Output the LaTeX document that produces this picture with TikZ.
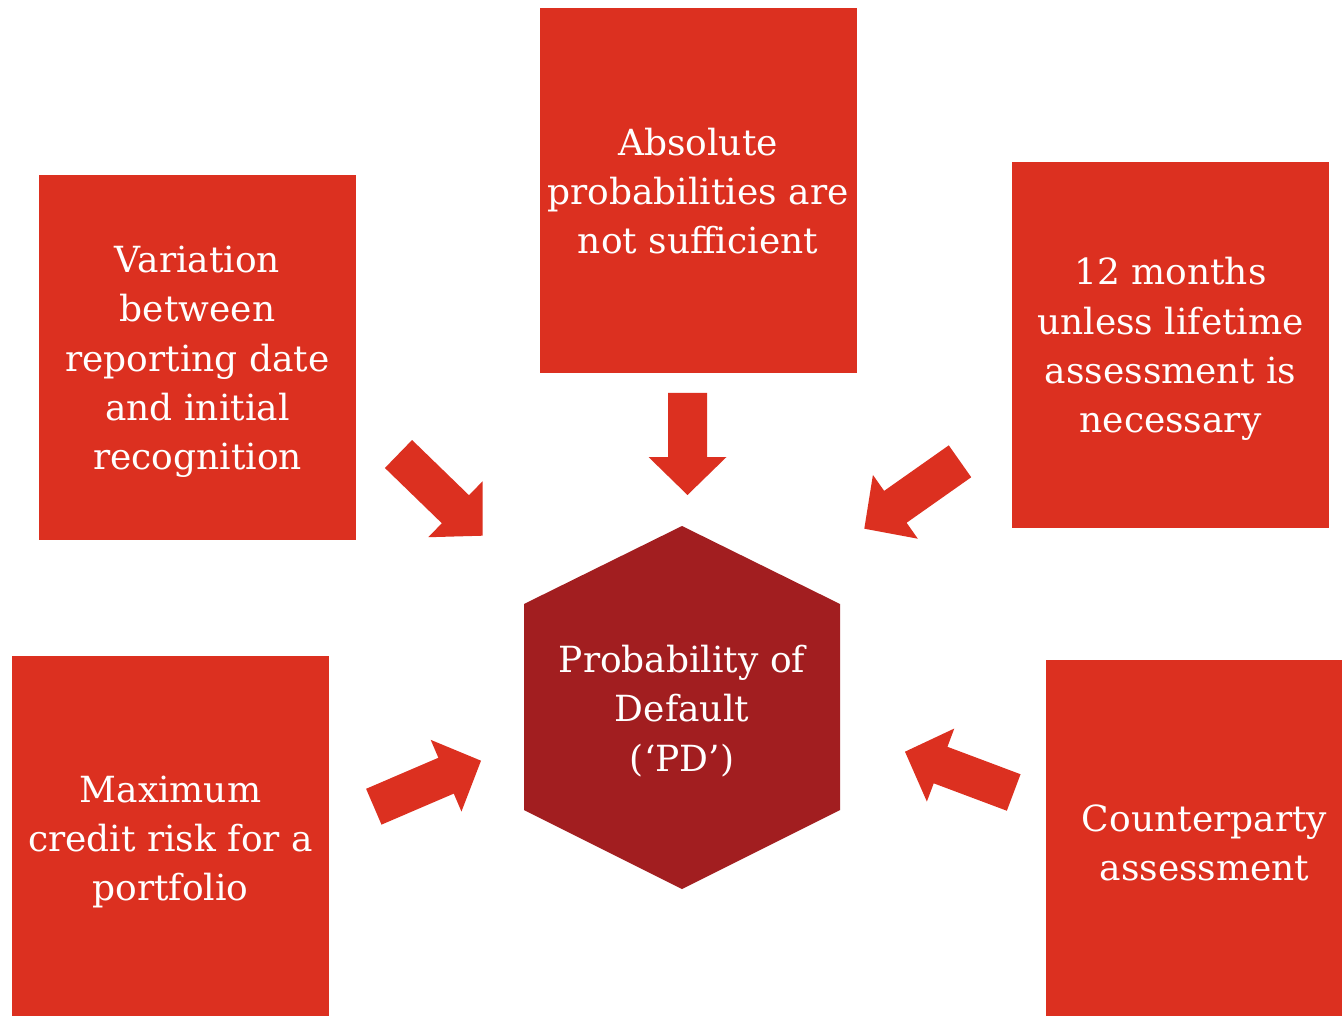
\documentclass[tikz,border=0pt]{standalone}
\usepackage{fontspec}
\setmainfont{DejaVu Serif}
\usetikzlibrary{calc}
\definecolor{boxred}{HTML}{DC3020}
\definecolor{hexred}{HTML}{A21E20}
\newcommand{\blockarrow}[2]{%
  \fill[boxred]
    ($(#1)!19.5pt!90:(#2)$) --
    ($($(#2)!38pt!(#1)$)!19.5pt!90:(#2)$) --
    ($($(#2)!38pt!(#1)$)!39pt!90:(#2)$) --
    (#2) --
    ($($(#2)!38pt!(#1)$)!39pt!-90:(#2)$) --
    ($($(#2)!38pt!(#1)$)!19.5pt!-90:(#2)$) --
    ($(#1)!19.5pt!-90:(#2)$) -- cycle;}
\tikzset{
  box/.style={rectangle, fill=boxred, inner sep=0pt, minimum width=317pt, minimum height=365pt},
  lbl/.style={text=white, align=center, inner sep=0pt, font=\fontsize{36}{49.3}\selectfont}
}
\begin{document}
\begin{tikzpicture}[x=1pt,y=-1pt]
\clip (0,0) rectangle (1342,1016);
\fill[white] (0,0) rectangle (1342,1016);
% boxes
\node[box] (b1) at (698,191) {};
\node[lbl] at ($(b1.center)+(0,0)$) {Absolute\\probabilities are\\not sufficient};
\node[box] (b2) at (197.5,357.5) {};
\node[lbl] at ($(b2.center)+(0,4.5)$) {Variation\\between\\reporting date\\and initial\\recognition};
\node[box] (b3) at (1170.5,345) {};
\node[lbl] at ($(b3.center)+(0,4)$) {12 months\\unless lifetime\\assessment is\\necessary};
\node[box] (b4) at (170.5,838) {};
\node[lbl] at ($(b4.center)+(0,4)$) {Maximum\\credit risk for a\\portfolio};
\node[box] (b5) at (1204.5,842) {};
\node[lbl] at ($(b5.center)+(0,1)$) {Counterparty\\assessment};
% hexagon
\fill[hexred] (682,526) -- (840,604) -- (840,810) -- (682,889) -- (524,810) -- (524,604) -- cycle;
\node[lbl] (pd) at (682,711) {Probability of\\Default\\(‘PD’)};
% arrows
\coordinate (t1) at (687.5,393); \coordinate (p1) at (687.5,495);
\coordinate (t2) at (398.5,454); \coordinate (p2) at (482.7,535.7);
\coordinate (t3) at (960,461.3); \coordinate (p3) at (864.3,528.7);
\coordinate (t4) at (373.8,806.7); \coordinate (p4) at (481,760.7);
\coordinate (t5) at (1013.7,792.5); \coordinate (p5) at (905,751.7);
\blockarrow{t1}{p1}
\blockarrow{t2}{p2}
\blockarrow{t3}{p3}
\blockarrow{t4}{p4}
\blockarrow{t5}{p5}
\end{tikzpicture}
\end{document}
